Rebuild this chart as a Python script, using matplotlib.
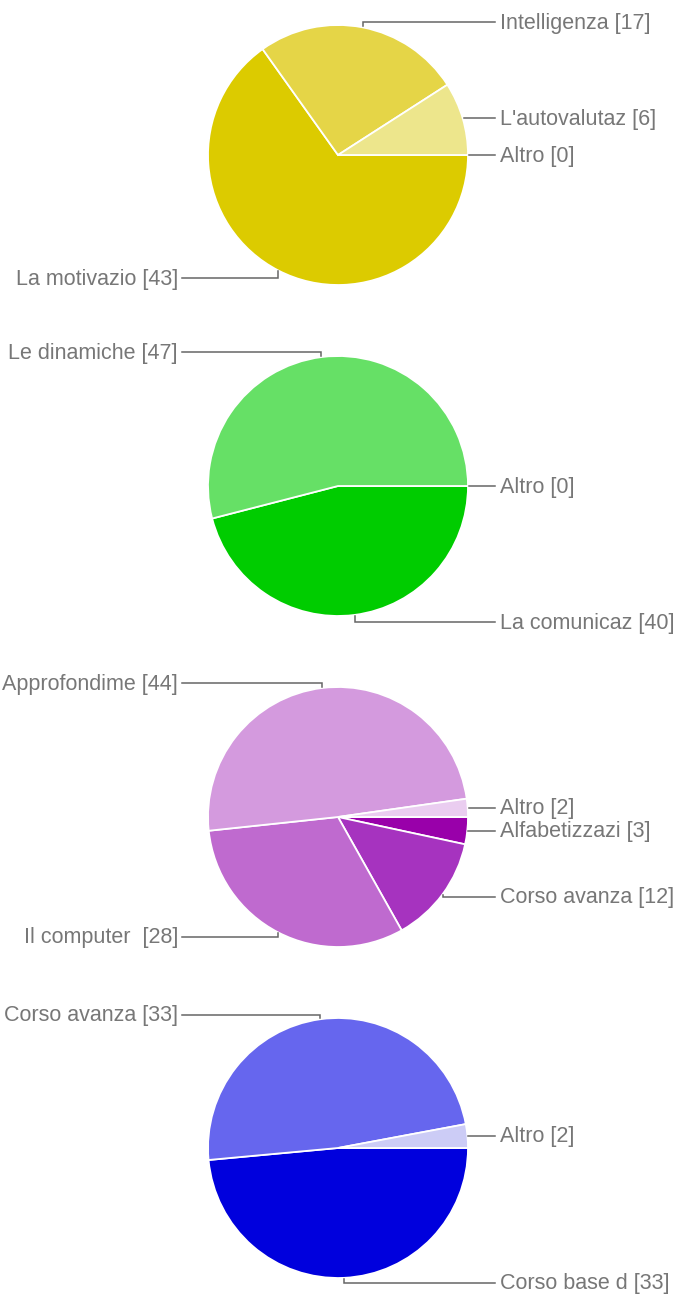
import math

import matplotlib.pyplot as plt

# pie 1
labels_1 = ["Altro", "La motivazio", "Intelligenza", "L'autovalutaz"]
values_1 = [0, 43, 17, 6]
colors_1 = ["#f5efb8", "#dccb00", "#e5d547", "#ede68c"]

# pie 2
labels_2 = ["Altro", "La comunicaz", "Le dinamiche"]
values_2 = [0, 40, 47]
colors_2 = ["#b3f0b3", "#00cc00", "#66e066"]

# pie 3
labels_3 = ["Alfabetizzazi", "Corso avanza", "Il computer ", "Approfondime", "Altro"]
values_3 = [3, 12, 28, 44, 2]
colors_3 = ["#9900aa", "#a633bf", "#bf6acf", "#d49ade", "#eacdf0"]

# pie 4
labels_4 = ["Corso base d", "Corso avanza", "Altro"]
values_4 = [33, 33, 2]
colors_4 = ["#0000dd", "#6666ee", "#ccccf6"]

# layout (pixel coords, y from top)
W, H = 680, 1299
CX = 338
RADIUS = 130
centers_y = [155, 486, 817, 1148]
label_y = [
    [155, 278, 22, 118],
    [486, 622, 352],
    [831, 897, 937, 683, 807],
    [1283, 1015, 1137],
]
left_side = [
    [False, True, False, False],
    [False, False, True],
    [False, False, True, True, False],
    [False, True, False],
]

TEXT_COLOR = "#777777"
LINE_COLOR = "#666666"

fig = plt.figure(figsize=(W / 100, H / 100), dpi=100)
ax = fig.add_axes([0, 0, 1, 1])

pies = [
    (labels_1, values_1, colors_1),
    (labels_2, values_2, colors_2),
    (labels_3, values_3, colors_3),
    (labels_4, values_4, colors_4),
]

for (labels, values, colors), cy_px, ly_list, sides in zip(pies, centers_y, label_y, left_side):
    cy = H - cy_px
    wedges, _ = ax.pie(
        values,
        colors=colors,
        startangle=0,
        counterclock=False,
        center=(CX, cy),
        radius=RADIUS,
        wedgeprops=dict(edgecolor="white", linewidth=1.3),
        frame=True,
    )
    for w, lab, val, ly_px, is_left in zip(wedges, labels, values, ly_list, sides):
        mid = math.radians((w.theta1 + w.theta2) / 2)
        ax_x = CX + (RADIUS + 1) * math.cos(mid)
        ax_y = cy + (RADIUS + 1) * math.sin(mid)
        ly = H - ly_px
        if abs(ly - ax_y) < 2:
            ly = ax_y
        if is_left:
            end_x = 182
            tx, ha = 178, "right"
        else:
            end_x = 495
            tx, ha = 500, "left"
        ax.plot([ax_x, ax_x, end_x], [ax_y, ly, ly], color=LINE_COLOR, lw=1.1,
                solid_joinstyle="miter")
        ax.text(tx, ly - 1, f"{lab} [{val}]", ha=ha, va="center", fontsize=15.5,
                color=TEXT_COLOR, family="Liberation Sans")

ax.set_xlim(0, W)
ax.set_ylim(0, H)
ax.set_aspect("equal")
ax.axis("off")

fig.savefig("out.png", dpi=100)
